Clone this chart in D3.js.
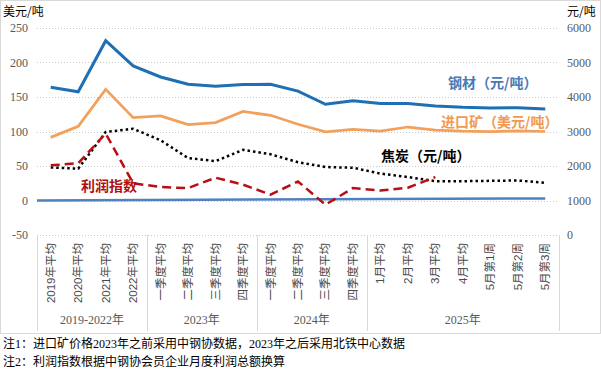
<!DOCTYPE html>
<html>
<head>
<meta charset="utf-8">
<script src="https://cdn.jsdelivr.net/npm/d3@7"></script>
<style>
  body { margin: 0; background: #fff; }
</style>
</head>
<body>
<div id="chart-area"></div>
<script>

const categories = ['2019年平均', '2020年平均', '2021年平均', '2022年平均',
  '一季度平均', '二季度平均', '三季度平均', '四季度平均',
  '一季度平均', '二季度平均', '三季度平均', '四季度平均',
  '1月平均', '2月平均', '3月平均', '4月平均', '5月第1周', '5月第2周', '5月第3周'];
const groups = ['2019-2022年', '2023年', '2024年', '2025年'];
const groupSizes = [4, 4, 4, 7];

const leftTicks = [-50, 0, 50, 100, 150, 200, 250];
const rightTicks = [0, 1000, 2000, 3000, 4000, 5000, 6000];

// 钢材 元/吨 (right axis)
const steel = [4280, 4150, 5630, 4900, 4580, 4370, 4310, 4360, 4370, 4170,
  3790, 3890, 3810, 3810, 3740, 3700, 3680, 3690, 3650];
// 进口矿 美元/吨 (left axis)
const ore = [91.5, 107.5, 161, 120, 122.5, 110, 113, 129, 123.5, 110.5,
  99.5, 103, 100.5, 106.5, 102, 100.5, 100, 101, 100];
// 焦炭 元/吨 (right axis)
const coke = [1960, 1920, 2985, 3080, 2745, 2230, 2140, 2470, 2340, 2110,
  1970, 1950, 1780, 1680, 1560, 1560, 1570, 1580, 1510];
// 利润指数 (left axis), ends at 3月
const profit = [51, 54, 97, 25, 19.5, 18, 33, 23, 8.5, 27.5, -6, 18, 14.5, 18.5, 34];
// 零线 (left axis): value at plot start, value at last category
const zeroLine = [0, 3];

const widthSvg = 601;
const heightSvg = 375;
const plot = { left: 37, right: 559, top: 28, bottom: 235 };
const catBottom = 331;

const serif = "'Liberation Serif', 'Noto Sans CJK SC', serif";
const sans = "'Liberation Sans', 'Noto Sans CJK SC', sans-serif";
const cjk = "'Noto Sans CJK SC', sans-serif";

const svg = d3.select('#chart-area').append('svg')
  .attr('width', widthSvg)
  .attr('height', heightSvg);

const scaleX = d3.scaleBand()
  .domain(d3.range(categories.length))
  .range([plot.left, plot.right]);
const cx = i => scaleX(i) + scaleX.bandwidth() / 2;

const scaleY = d3.scaleLinear().domain([-50, 250]).range([plot.bottom, plot.top]);
const scaleY2 = d3.scaleLinear().domain([0, 6000]).range([plot.bottom, plot.top]);

// outer frame
svg.append('rect')
  .attr('x', 0.5).attr('y', 0.5)
  .attr('width', widthSvg - 1).attr('height', 333)
  .attr('fill', 'none')
  .attr('stroke', '#d9d9d9');

// gridlines
svg.append('g').selectAll('line')
  .data(leftTicks)
  .join('line')
    .attr('x1', plot.left).attr('x2', plot.right)
    .attr('y1', d => Math.round(scaleY(d)) + 0.5)
    .attr('y2', d => Math.round(scaleY(d)) + 0.5)
    .attr('stroke', '#c8c8c8')
    .attr('stroke-dasharray', '1 2');

// left axis labels
svg.append('g').selectAll('text')
  .data(leftTicks)
  .join('text')
    .attr('x', 28)
    .attr('y', d => scaleY(d))
    .attr('dy', '0.35em')
    .attr('text-anchor', 'end')
    .style('font-family', serif)
    .style('font-size', '12px')
    .attr('fill', '#595959')
    .text(d => d);

// right axis labels
svg.append('g').selectAll('text')
  .data(rightTicks)
  .join('text')
    .attr('x', 567)
    .attr('y', d => scaleY2(d))
    .attr('dy', '0.35em')
    .style('font-family', serif)
    .style('font-size', '12px')
    .attr('fill', '#595959')
    .text(d => d);

svg.append('text')
  .attr('x', 3).attr('y', 16)
  .style('font-family', cjk)
  .style('font-size', '12px')
  .text('美元/吨');

svg.append('text')
  .attr('x', 567).attr('y', 16)
  .style('font-family', cjk)
  .style('font-size', '12px')
  .text('元/吨');

// category axis: separators
const bounds = [0];
groupSizes.forEach(n => bounds.push(bounds[bounds.length - 1] + n));
const boundX = i => i < categories.length ? scaleX(i) : plot.right;

svg.append('g').selectAll('line')
  .data(bounds)
  .join('line')
    .attr('x1', d => Math.round(boundX(d)) + 0.5)
    .attr('x2', d => Math.round(boundX(d)) + 0.5)
    .attr('y1', plot.bottom)
    .attr('y2', catBottom)
    .attr('stroke', '#d9d9d9');

svg.append('g').selectAll('text')
  .data(categories)
  .join('text')
    .attr('transform', (d, i) => `translate(${cx(i)}, 243)rotate(-90)`)
    .attr('text-anchor', 'end')
    .attr('dominant-baseline', 'central')
    .style('font-family', sans)
    .style('font-size', '11.5px')
    .attr('fill', '#4a4a4a')
    .text(d => d);

svg.append('g').selectAll('text')
  .data(groups)
  .join('text')
    .attr('x', (d, i) => (boundX(bounds[i]) + boundX(bounds[i + 1])) / 2)
    .attr('y', 324)
    .attr('text-anchor', 'middle')
    .style('font-family', serif)
    .style('font-size', '12px')
    .attr('fill', '#595959')
    .text(d => d);

// lines
const lineLeft = d3.line().x((d, i) => cx(i)).y(d => scaleY(d));
const lineRight = d3.line().x((d, i) => cx(i)).y(d => scaleY2(d));

svg.append('line')
  .attr('x1', plot.left).attr('y1', scaleY(zeroLine[0]))
  .attr('x2', cx(categories.length - 1)).attr('y2', scaleY(zeroLine[1]))
  .attr('stroke', '#4f81bd')
  .attr('stroke-width', 2.5);

svg.append('path')
  .attr('d', lineRight(coke))
  .attr('fill', 'none')
  .attr('stroke', '#000')
  .attr('stroke-width', 2.5)
  .attr('stroke-dasharray', '2.5 3');

svg.append('path')
  .attr('d', lineLeft(profit))
  .attr('fill', 'none')
  .attr('stroke', '#b80f14')
  .attr('stroke-width', 2.5)
  .attr('stroke-dasharray', '9 5');

svg.append('path')
  .attr('d', lineLeft(ore))
  .attr('fill', 'none')
  .attr('stroke', '#f2a15c')
  .attr('stroke-width', 2.75);

svg.append('path')
  .attr('d', lineRight(steel))
  .attr('fill', 'none')
  .attr('stroke', '#1f6fb5')
  .attr('stroke-width', 3);

// series labels
const labels = [
  { text: '钢材（元/吨）', x: 448, y: 88, color: '#4a7ab5' },
  { text: '进口矿（美元/吨）', x: 441, y: 127, color: '#f0994f' },
  { text: '焦炭（元/吨）', x: 381, y: 161, color: '#000' },
  { text: '利润指数', x: 81, y: 191, color: '#b00f14' },
];
svg.append('g').selectAll('text')
  .data(labels)
  .join('text')
    .attr('x', d => d.x)
    .attr('y', d => d.y)
    .style('font-family', cjk)
    .style('font-size', '14px')
    .style('font-weight', 'bold')
    .attr('fill', d => d.color)
    .text(d => d.text);

// notes
const notes = ['注1：进口矿价格2023年之前采用中钢协数据，2023年之后采用北铁中心数据',
  '注2：利润指数根据中钢协会员企业月度利润总额换算'];
svg.append('g').selectAll('text')
  .data(notes)
  .join('text')
    .attr('x', 3)
    .attr('y', (d, i) => 348 + i * 18)
    .style('font-family', serif)
    .style('font-size', '12px')
    .text(d => d);

</script>
</body>
</html>
